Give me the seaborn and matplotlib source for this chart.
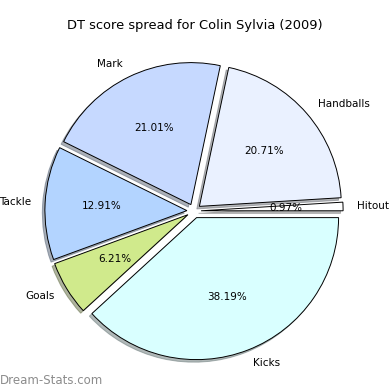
import matplotlib
matplotlib.use("Agg")

import matplotlib.pyplot as plt
import seaborn as sns

# ---------------------------- DATA -----------------------------------

CATEGORIES = ["Hitout", "Handballs", "Mark", "Tackle", "Goals", "Kicks"]
PERCENTS = [0.97, 20.71, 21.01, 12.91, 6.21, 38.19]
COLORS = ["#ffffff", "#eaf1ff", "#c6d9ff", "#b3d4ff", "#d0ea8c", "#d9ffff"]
TITLE = "DT score spread for Colin Sylvia (2009)"
WATERMARK = "Dream-Stats.com"

# ---------------------------- PLOT -----------------------------------

sns.set_style("white")
plt.rcParams["font.family"] = ["DejaVu Sans"]
plt.rcParams["text.color"] = "black"

fig = plt.figure(figsize=(3.9, 3.9), dpi=100)
ax = fig.add_axes([0, 0, 1, 1])

wedges, texts, autotexts = ax.pie(
    PERCENTS,
    labels=CATEGORIES,
    colors=COLORS,
    explode=[0.05] * len(PERCENTS),
    autopct="%1.2f%%",
    startangle=0,
    shadow={"ox": -0.013, "oy": -0.013, "shade": 0.55},
    labeldistance=1.1,
    pctdistance=0.6,
    wedgeprops={"edgecolor": "black", "linewidth": 0.7},
    textprops={"fontsize": 7.5, "color": "black"},
)

# 1 data unit ~ 142 px, pie centre at (194, 211) px
ax.set_xlim(-194 / 142, 196 / 142)
ax.set_ylim(-179 / 142, 211 / 142)
ax.axis("off")

fig.text(0.5, 1 - 25 / 390, TITLE, ha="center", va="center", fontsize=9.4)
fig.text(0.0, 1 - 380 / 390, WATERMARK, ha="left", va="center",
         fontsize=8.5, color="#8c8c8c")

fig.savefig("out.png", dpi=100)
